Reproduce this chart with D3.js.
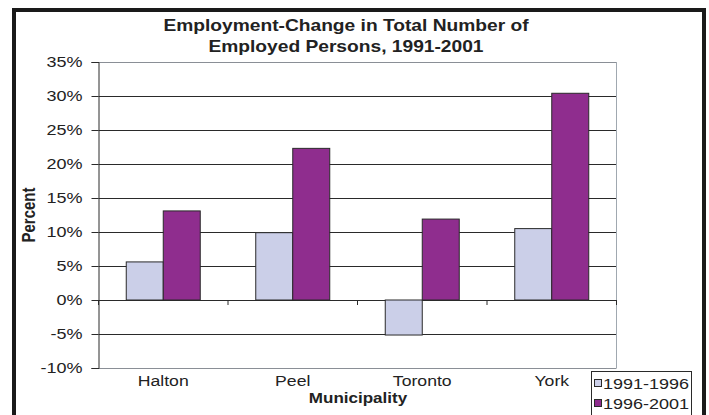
<!DOCTYPE html>
<html>
<head>
<meta charset="utf-8">
<script src="https://cdn.jsdelivr.net/npm/d3@7"></script>
<style>
  body { margin: 0; background: #fff; }
  svg { display: block; font-family: "Liberation Sans", Arial, sans-serif; }
</style>
</head>
<body>
<svg width="709" height="415"></svg>
<script>
// data
const municipalities = ["Halton", "Peel", "Toronto", "York"];
const periods = ["1991-1996", "1996-2001"];
const change9196 = [5.6, 9.9, -5.15, 10.5];
const change9601 = [13.1, 22.3, 11.9, 30.4];
const yTicks = [-10, -5, 0, 5, 10, 15, 20, 25, 30, 35];
const colors = ["#cbcfe8", "#8f2d8e"];

const series = [change9196, change9601];

// the original picture is a bit stretched sideways, text too
const sx = 1.2;

const svg = d3.select('svg');

// outer frame
svg.append('rect')
  .attr('x', 14).attr('y', 10)
  .attr('width', 690).attr('height', 420)
  .attr('fill', 'none')
  .attr('stroke', '#1a1a1a')
  .attr('stroke-width', 4);

const plotLeft = 98.5, plotRight = 616.5, plotTop = 62, plotBottom = 368;

const x = d3.scaleBand()
  .domain(municipalities)
  .range([plotLeft, plotRight]);

// gap width 150% -> outer padding of 0.75 bar on each side
const x1 = d3.scaleBand()
  .domain(periods)
  .range([0, x.bandwidth()])
  .paddingInner(0)
  .paddingOuter(0.75);

const y = d3.scaleLinear()
  .domain([-10, 35])
  .range([plotBottom, plotTop]);

function label(px, py, txt, size, bold, anchor) {
  return svg.append('text')
    .attr('transform', `translate(${px},${py}) scale(${sx},1)`)
    .attr('text-anchor', anchor || 'middle')
    .attr('font-size', size)
    .attr('font-weight', bold ? 'bold' : 'normal')
    .attr('fill', '#222')
    .text(txt);
}

// gridlines
svg.append('g')
  .selectAll('line')
  .data(yTicks)
  .enter().append('line')
  .attr('x1', plotLeft).attr('x2', plotRight)
  .attr('y1', d => Math.round(y(d)) + 0.5)
  .attr('y2', d => Math.round(y(d)) + 0.5)
  .attr('stroke', d => (d === 35 || d === -10) ? '#8a8f96' : '#2a2a2a')
  .attr('stroke-width', 1);

// right border of plot
svg.append('line')
  .attr('x1', plotRight).attr('x2', plotRight)
  .attr('y1', plotTop).attr('y2', plotBottom)
  .attr('stroke', '#a0a8b0');

// bars
const groups = svg.append('g')
  .selectAll('g')
  .data(municipalities)
  .enter().append('g')
  .attr('transform', d => `translate(${x(d)},0)`);

groups.selectAll('rect')
  .data((d, i) => periods.map((p, j) => ({ period: p, value: series[j][i], k: j })))
  .enter().append('rect')
  .attr('x', d => x1(d.period))
  .attr('width', x1.bandwidth())
  .attr('y', d => y(Math.max(0, d.value)))
  .attr('height', d => Math.abs(y(d.value) - y(0)))
  .attr('fill', d => colors[d.k])
  .attr('stroke', '#2a2a2a')
  .attr('stroke-width', 1);

// y axis
const yAxis = d3.axisLeft(y)
  .tickValues(yTicks)
  .tickFormat(d => d + '%')
  .tickSize(7)
  .tickPadding(9);

const yg = svg.append('g')
  .attr('transform', `translate(${plotLeft},0)`)
  .call(yAxis);
yg.select('.domain').attr('stroke', '#2a2a2a');
yg.selectAll('.tick line').attr('stroke', '#2a2a2a');
yg.selectAll('.tick text')
  .attr('x', -16 / sx)
  .attr('transform', `scale(${sx},1)`)
  .attr('font-size', 15)
  .attr('fill', '#222')
  .style('font-family', '"Liberation Sans", Arial, sans-serif');

// x axis on zero line, ticks at category boundaries
const bounds = municipalities.map(m => x(m)).concat([plotRight]);
svg.append('g')
  .selectAll('line')
  .data(bounds)
  .enter().append('line')
  .attr('x1', d => d).attr('x2', d => d)
  .attr('y1', y(0)).attr('y2', y(0) + 5)
  .attr('stroke', '#2a2a2a');

municipalities.forEach(m => label(x(m) + x.bandwidth() / 2, 386, m, 14.7, false));

// titles
label(346, 31, 'Employment-Change in Total Number of', 16, true);
label(346, 52, 'Employed Persons, 1991-2001', 16, true);
label(358, 403, 'Municipality', 14.2, true);

svg.append('text')
  .attr('transform', `translate(35,215) scale(${sx},1) rotate(-90)`)
  .attr('text-anchor', 'middle')
  .attr('font-size', 15)
  .attr('font-weight', 'bold')
  .attr('fill', '#222')
  .text('Percent');

// legend
const legend = svg.append('g').attr('transform', 'translate(591,371)');
legend.append('rect')
  .attr('x', 0.5).attr('y', 0.5)
  .attr('width', 100).attr('height', 60)
  .attr('fill', '#fff')
  .attr('stroke', '#2a2a2a');

const items = legend.selectAll('.item')
  .data(periods)
  .enter().append('g')
  .attr('class', 'item')
  .attr('transform', (d, i) => `translate(0,${12 + i * 20})`);

items.append('rect')
  .attr('x', 3.5).attr('y', -3.5)
  .attr('width', 7).attr('height', 7)
  .attr('fill', (d, i) => colors[i])
  .attr('stroke', '#2a2a2a');

items.append('text')
  .attr('transform', `translate(12,5.5) scale(${sx},1)`)
  .attr('font-size', 15)
  .attr('fill', '#222')
  .text(d => d);
</script>
</body>
</html>
